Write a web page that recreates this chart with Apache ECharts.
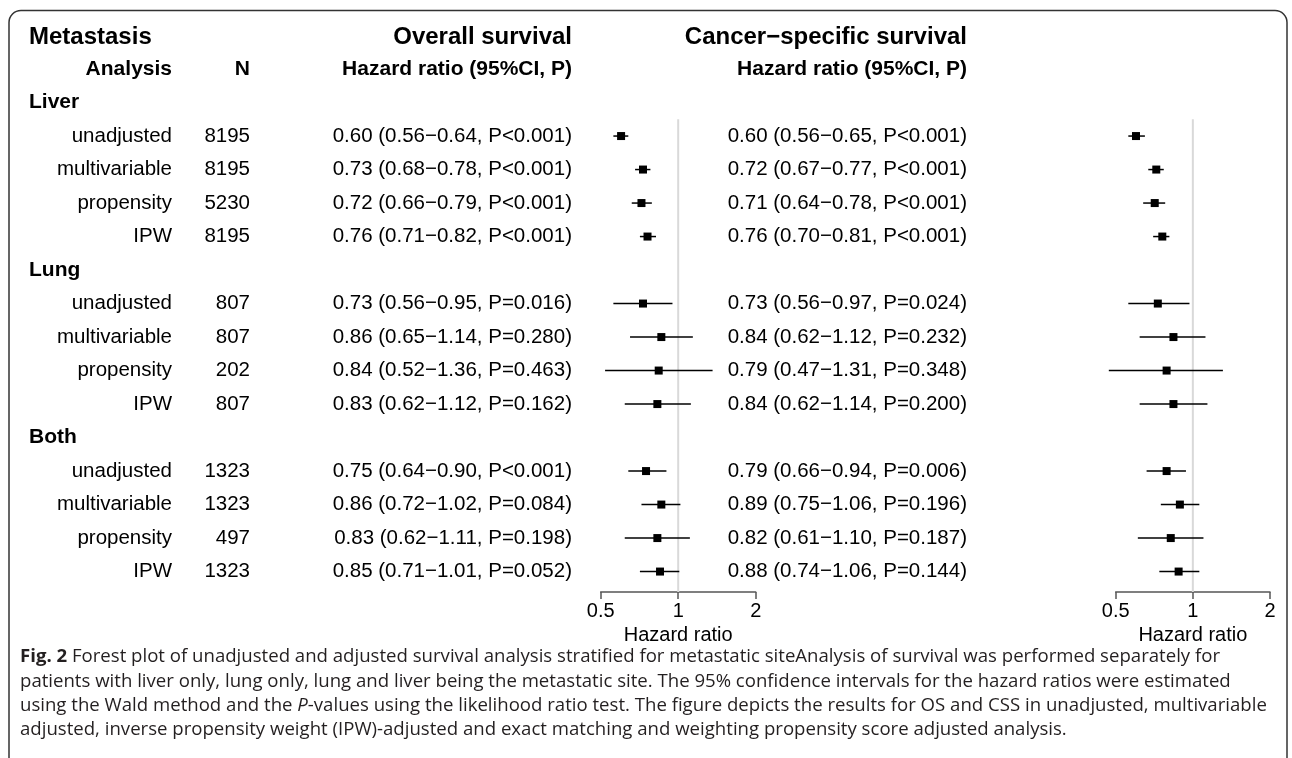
<!DOCTYPE html>
<html>
<head>
<meta charset="utf-8">
<script src="https://cdn.jsdelivr.net/npm/echarts@6/dist/echarts.min.js"></script>
<style>
html,body{margin:0;padding:0;background:#fff;}
#chart{width:1292px;height:758px;}
</style>
</head>
<body>
<div id="chart"></div>
<script>
// ---- data ----
const groups = ['Liver', 'Lung', 'Both'];
const analyses = ['unadjusted', 'multivariable', 'propensity', 'IPW'];
const nValues = [8195, 8195, 5230, 8195, 807, 807, 202, 807, 1323, 1323, 497, 1323];
const osHR = [0.60, 0.73, 0.72, 0.76, 0.73, 0.86, 0.84, 0.83, 0.75, 0.86, 0.83, 0.85];
const osLo = [0.56, 0.68, 0.66, 0.71, 0.56, 0.65, 0.52, 0.62, 0.64, 0.72, 0.62, 0.71];
const osHi = [0.64, 0.78, 0.79, 0.82, 0.95, 1.14, 1.36, 1.12, 0.90, 1.02, 1.11, 1.01];
const osP = ['P<0.001', 'P<0.001', 'P<0.001', 'P<0.001', 'P=0.016', 'P=0.280', 'P=0.463', 'P=0.162', 'P<0.001', 'P=0.084', 'P=0.198', 'P=0.052'];
const cssHR = [0.60, 0.72, 0.71, 0.76, 0.73, 0.84, 0.79, 0.84, 0.79, 0.89, 0.82, 0.88];
const cssLo = [0.56, 0.67, 0.64, 0.70, 0.56, 0.62, 0.47, 0.62, 0.66, 0.75, 0.61, 0.74];
const cssHi = [0.65, 0.77, 0.78, 0.81, 0.97, 1.12, 1.31, 1.14, 0.94, 1.06, 1.10, 1.06];
const cssP = ['P<0.001', 'P<0.001', 'P<0.001', 'P<0.001', 'P=0.024', 'P=0.232', 'P=0.348', 'P=0.200', 'P=0.006', 'P=0.196', 'P=0.187', 'P=0.144'];
const xTicks = [0.5, 1, 2];
const headers = {metastasis: 'Metastasis', analysis: 'Analysis', n: 'N', os: 'Overall survival', css: 'Cancer\u2212specific survival', hr: 'Hazard ratio (95%CI, P)', axisName: 'Hazard ratio'};
const captionLines = [
  '{b|Fig. 2} Forest plot of unadjusted and adjusted survival analysis stratified for metastatic siteAnalysis of survival was performed separately for',
  'patients with liver only, lung only, lung and liver being the metastatic site. The 95% confidence intervals for the hazard ratios were estimated',
  'using the Wald method and the {i|P}-values using the likelihood ratio test. The figure depicts the results for OS and CSS in unadjusted, multivariable',
  'adjusted, inverse propensity weight (IPW)-adjusted and exact matching and weighting propensity score adjusted analysis.'
];

// ---- layout ----
const FONT = "'Liberation Sans', Arial, Helvetica, sans-serif";
const gridTop = 119.3, gridH = 472.7, yMin = 2.5, yMax = 16.61;
const rowH = gridH / (yMax - yMin);
const rowY = i => gridTop + (i - yMin) * rowH;
const rowOf = k => 3 + Math.floor(k / 4) * 5 + (k % 4);
const fmt = v => v.toFixed(2);

const chart = echarts.init(document.getElementById('chart'), null, {renderer: 'canvas'});

function forestData(hr, lo, hi) {
  return hr.map((v, k) => [v, rowOf(k), lo[k], hi[k]]);
}

function renderCI(params, api) {
  const y = api.value(1);
  const a = api.coord([api.value(2), y]);
  const b = api.coord([api.value(3), y]);
  const c = api.coord([api.value(0), y]);
  const s = 8;
  return {
    type: 'group',
    children: [
      {type: 'line', shape: {x1: a[0], y1: a[1], x2: b[0], y2: b[1]}, style: {stroke: '#000', lineWidth: 1.5}},
      {type: 'rect', shape: {x: c[0] - s / 2, y: c[1] - s / 2, width: s, height: s}, style: {fill: '#000'}}
    ]
  };
}

function xAxisCfg(gi) {
  return {
    gridIndex: gi, type: 'log', logBase: 2, min: 0.5, max: 2,
    axisLine: {show: true, lineStyle: {color: '#555', width: 1.5}},
    axisTick: {show: true, inside: false, length: 7, lineStyle: {color: '#555', width: 1.5}},
    splitLine: {show: false},
    axisLabel: {show: true, color: '#000', fontFamily: FONT, fontSize: 20, margin: 9,
      formatter: v => { const r = xTicks.find(t => Math.abs(t - v) < 1e-6); return r === undefined ? '' : String(r); }},
    name: headers.axisName, nameLocation: 'middle', nameGap: 26,
    nameTextStyle: {color: '#000', fontFamily: FONT, fontSize: 20, verticalAlign: 'top'}
  };
}
function yAxisCfg(gi) {
  return {gridIndex: gi, type: 'value', inverse: true, min: yMin, max: yMax, show: false};
}
function refLine(gi) {
  return {type: 'line', xAxisIndex: gi, yAxisIndex: gi, data: [[1, yMin], [1, yMax]], symbol: 'none',
    lineStyle: {color: '#d9d9d9', width: 2}, silent: true, z: 1, animation: false};
}

// ---- text ----
const texts = [];
function T(x, y, text, size, bold, align) {
  texts.push({type: 'text', x: x, y: y, silent: true,
    style: {text: text, fontFamily: FONT, fontSize: size, fontWeight: bold ? 'bold' : 'normal', fill: '#000',
      align: align, verticalAlign: 'middle', textAlign: align, textVerticalAlign: 'middle'}});
}
const xMetL = 29, xAnaR = 172, xNR = 250, xOsR = 572, xCssR = 967;
T(xMetL, rowY(0) + 1.5, headers.metastasis, 24, true, 'left');
T(xOsR, rowY(0) + 1.5, headers.os, 24, true, 'right');
T(xCssR, rowY(0) + 1.5, headers.css, 24, true, 'right');
T(xAnaR, rowY(1), headers.analysis, 21, true, 'right');
T(xNR, rowY(1), headers.n, 21, true, 'right');
T(xOsR, rowY(1), headers.hr, 21, true, 'right');
T(xCssR, rowY(1), headers.hr, 21, true, 'right');
groups.forEach((g, gi) => T(xMetL, rowY(2 + gi * 5), g, 21, true, 'left'));
nValues.forEach((n, k) => {
  const y = rowY(rowOf(k));
  T(xAnaR, y, analyses[k % 4], 20.5, false, 'right');
  T(xNR, y, String(n), 20.5, false, 'right');
  T(xOsR, y, fmt(osHR[k]) + ' (' + fmt(osLo[k]) + '\u2212' + fmt(osHi[k]) + ', ' + osP[k] + ')', 20.5, false, 'right');
  T(xCssR, y, fmt(cssHR[k]) + ' (' + fmt(cssLo[k]) + '\u2212' + fmt(cssHi[k]) + ', ' + cssP[k] + ')', 20.5, false, 'right');
});

// frame
texts.push({type: 'rect', silent: true, shape: {x: 9, y: 10.5, width: 1278, height: 820, r: 12},
  style: {fill: 'none', stroke: '#333', lineWidth: 1.5}, z: -10});

// caption
const CAP_FONT = "'Open Sans', 'Noto Sans', sans-serif";
const CAP_SIZE = 18.6;
const capY0 = 657, capDY = 24.3;
captionLines.forEach((line, i) => {
  texts.push({type: 'text', x: 20, y: capY0 + i * capDY, silent: true,
    style: {text: line, fontFamily: CAP_FONT, fontSize: CAP_SIZE, fill: '#231f20', align: 'left', verticalAlign: 'middle',
      textAlign: 'left', textVerticalAlign: 'middle',
      rich: {b: {fontWeight: 'bold', fontFamily: CAP_FONT, fontSize: CAP_SIZE, fill: '#231f20'},
             i: {fontStyle: 'italic', fontFamily: CAP_FONT, fontSize: CAP_SIZE, fill: '#231f20'}}}});
});

chart.setOption({
  animation: false,
  backgroundColor: '#fff',
  grid: [
    {left: 600.7, width: 155.0, top: gridTop, height: gridH, containLabel: false},
    {left: 1115.7, width: 154.3, top: gridTop, height: gridH, containLabel: false}
  ],
  xAxis: [xAxisCfg(0), xAxisCfg(1)],
  yAxis: [yAxisCfg(0), yAxisCfg(1)],
  series: [
    refLine(0), refLine(1),
    {type: 'custom', xAxisIndex: 0, yAxisIndex: 0, renderItem: renderCI, data: forestData(osHR, osLo, osHi),
      encode: {x: [0, 2, 3], y: 1}, z: 5, silent: true},
    {type: 'custom', xAxisIndex: 1, yAxisIndex: 1, renderItem: renderCI, data: forestData(cssHR, cssLo, cssHi),
      encode: {x: [0, 2, 3], y: 1}, z: 5, silent: true}
  ],
  graphic: {elements: texts}
});
</script>
</body>
</html>
